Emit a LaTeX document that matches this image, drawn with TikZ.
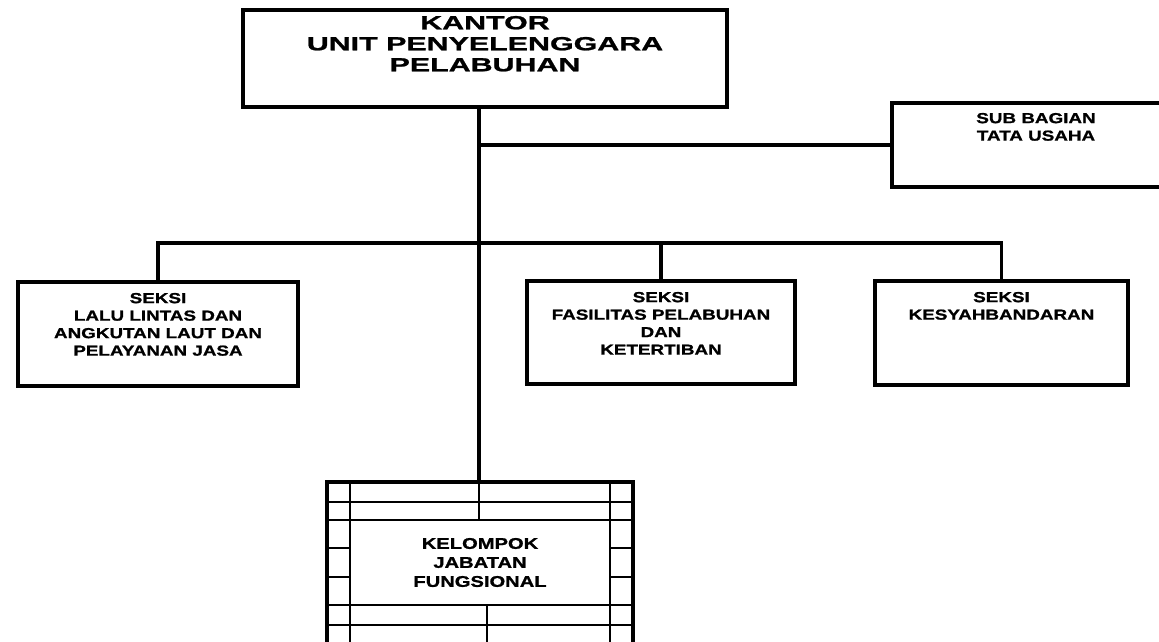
\documentclass[tikz,border=0pt]{standalone}
\usepackage{fontspec}
\setmainfont{Liberation Sans}[FakeStretch=1.3, BoldFeatures={FakeBold=1.2}]
\newfontfamily\titlefont{Liberation Sans}[FakeStretch=1.6, BoldFeatures={FakeBold=1.2}]
\usetikzlibrary{positioning}

\begin{document}
\begin{tikzpicture}[x=1pt, y=-1pt, line width=3.5pt,
  unitbox/.style={draw, line width=3.5pt, inner sep=0pt},
  boxtext/.style={align=center, inner sep=0pt, font=\bfseries\fontsize{14.5}{17.5}\selectfont},
  brick/.style={line width=2pt}]
\useasboundingbox (0,0) rectangle (1159,641);
\node[unitbox, minimum width=484pt, minimum height=97pt] (kantor) at (485,58.5) {};
\node[boxtext, font=\titlefont\bfseries\fontsize{19}{21}\selectfont, below=6pt of kantor.north] (kantor-t) {KANTOR\\UNIT PENYELENGGARA\\PELABUHAN};
\node[unitbox, minimum width=288pt, minimum height=84pt] (tu) at (1036,145) {};
\node[boxtext, below=10pt of tu.north] (tu-t) {SUB BAGIAN\\TATA USAHA};
\node[unitbox, minimum width=280pt, minimum height=104pt] (lalu) at (158,334) {};
\node[boxtext, below=11pt of lalu.north] (lalu-t) {SEKSI\\LALU LINTAS DAN\\ANGKUTAN LAUT DAN\\PELAYANAN JASA};
\node[unitbox, minimum width=268pt, minimum height=103pt] (fas) at (661,332.5) {};
\node[boxtext, below=11pt of fas.north] (fas-t) {SEKSI\\FASILITAS PELABUHAN\\DAN\\KETERTIBAN};
\node[unitbox, minimum width=253pt, minimum height=104pt] (kes) at (1001.5,333) {};
\node[boxtext, below=11pt of kes.north] (kes-t) {SEKSI\\KESYAHBANDARAN};
\foreach \y in {502,520,605,625}
  \draw[brick] (327,\y) -- (633,\y);
\foreach \y in {548,577}
  \draw[brick] (327,\y) -- (350,\y) (610,\y) -- (633,\y);
\draw[brick] (350,482) -- (350,660) (610,482) -- (610,660);
\draw[brick] (479,482) -- (479,520) (487,605) -- (487,660);
\node[draw, line width=2pt, fill=white, minimum width=260pt, minimum height=85pt, align=center, font=\bfseries\fontsize{15.5}{19}\selectfont] (fung) at (480,562.5) {KELOMPOK\\JABATAN\\FUNGSIONAL};
\node[unitbox, minimum width=306pt, minimum height=178pt] (kel) at (480,571) {};
\coordinate (spine) at (479,0);
\coordinate (branch) at (0,243);
\draw (kantor.south -| spine) -- (kel.north -| spine);
\draw (tu.west -| spine) -- (tu.west);
\draw (lalu.north) -- (lalu.north |- branch) -- (kes.north |- branch) -- (kes.north);
\draw (fas.north) -- (fas.north |- branch);
\end{tikzpicture}
\end{document}
